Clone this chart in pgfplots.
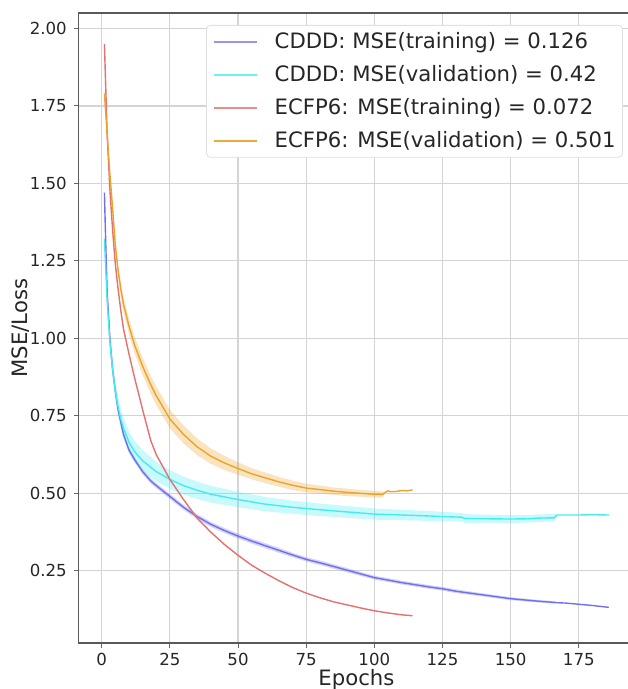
\documentclass[border=0pt]{standalone}
\usepackage{fontspec}
\setmainfont{DejaVu Sans}
\usepackage{pgfplots}
\usepackage{pgfplotstable}
\pgfplotsset{compat=1.18}
\usepgfplotslibrary{fillbetween}

\definecolor{cblue}{RGB}{112,112,236}
\definecolor{ccyan}{RGB}{72,234,242}
\definecolor{cred}{RGB}{228,112,112}
\definecolor{corange}{RGB}{234,164,44}
\definecolor{lblue}{RGB}{150,150,240}
\definecolor{lcyan}{RGB}{110,240,245}
\definecolor{lred}{RGB}{235,140,140}
\definecolor{lorange}{RGB}{236,172,60}

\pgfplotstableread{
x y lo hi
1 1.470 1.460 1.480
1.5 1.300 1.290 1.310
2 1.150 1.140 1.160
3 1.000 0.990 1.010
4 0.900 0.891 0.909
5 0.830 0.822 0.838
6 0.770 0.762 0.778
7 0.730 0.722 0.738
8 0.690 0.682 0.698
10 0.640 0.632 0.648
12 0.610 0.602 0.618
15 0.570 0.562 0.578
18 0.540 0.532 0.548
20 0.525 0.517 0.533
25 0.490 0.482 0.498
30 0.455 0.447 0.463
35 0.425 0.417 0.433
40 0.400 0.392 0.408
45 0.380 0.372 0.388
50 0.362 0.354 0.370
55 0.346 0.338 0.354
60 0.331 0.323 0.339
65 0.316 0.308 0.324
70 0.301 0.294 0.308
75 0.287 0.280 0.294
80 0.276 0.269 0.283
90 0.252 0.245 0.259
100 0.228 0.222 0.234
110 0.212 0.206 0.218
120 0.198 0.192 0.204
125 0.192 0.186 0.198
130 0.184 0.178 0.190
140 0.172 0.167 0.177
150 0.160 0.155 0.165
160 0.152 0.148 0.156
166 0.148 0.144 0.152
167 0.147 0.147 0.147
170 0.146 0.146 0.146
175 0.142 0.142 0.142
180 0.138 0.138 0.138
186 0.132 0.132 0.132
}\cdddtrain

\pgfplotstableread{
x y lo hi
1 1.320 1.310 1.330
1.5 1.220 1.205 1.235
2 1.120 1.100 1.140
3 0.990 0.965 1.015
4 0.900 0.872 0.928
5 0.830 0.800 0.860
6 0.780 0.748 0.812
7 0.740 0.707 0.773
8 0.710 0.676 0.744
10 0.665 0.630 0.700
12 0.635 0.600 0.670
15 0.605 0.571 0.639
20 0.570 0.538 0.602
25 0.545 0.515 0.575
30 0.525 0.496 0.554
35 0.510 0.482 0.538
40 0.497 0.470 0.524
50 0.480 0.455 0.505
60 0.465 0.442 0.488
70 0.455 0.434 0.476
75 0.451 0.430 0.472
80 0.447 0.427 0.467
90 0.440 0.421 0.459
100 0.433 0.415 0.451
110 0.430 0.413 0.447
120 0.427 0.411 0.443
125 0.425 0.410 0.440
132 0.423 0.409 0.437
133 0.419 0.405 0.433
140 0.418 0.405 0.431
150 0.417 0.404 0.430
157 0.418 0.406 0.430
160 0.420 0.408 0.432
166 0.421 0.409 0.433
167 0.430 0.430 0.430
175 0.430 0.430 0.430
180 0.431 0.431 0.431
186 0.430 0.430 0.430
}\cdddval

\pgfplotstableread{
x y
1 1.950
2 1.660
3 1.480
4 1.350
5 1.240
6 1.160
7 1.090
8 1.030
9 0.990
10 0.950
12 0.875
15 0.770
18 0.670
20 0.625
25 0.545
30 0.480
35 0.420
40 0.375
45 0.335
50 0.300
55 0.268
60 0.242
65 0.218
70 0.196
75 0.178
80 0.163
85 0.150
90 0.140
95 0.130
100 0.121
105 0.114
110 0.108
114 0.105
}\ecfptrain

\pgfplotstableread{
x y lo hi
1 1.790 1.780 1.800
2 1.660 1.650 1.670
3 1.530 1.518 1.542
4 1.420 1.405 1.435
5 1.300 1.283 1.317
6 1.220 1.200 1.240
7 1.160 1.138 1.182
8 1.110 1.087 1.133
10 1.040 1.015 1.065
12 0.980 0.953 1.007
15 0.910 0.882 0.938
18 0.850 0.821 0.879
20 0.815 0.785 0.845
25 0.740 0.710 0.770
30 0.690 0.661 0.719
35 0.650 0.623 0.677
40 0.620 0.595 0.645
45 0.598 0.575 0.621
50 0.580 0.560 0.600
55 0.563 0.545 0.581
60 0.550 0.533 0.567
65 0.537 0.521 0.553
70 0.526 0.511 0.541
75 0.517 0.503 0.531
80 0.512 0.499 0.525
85 0.507 0.495 0.519
90 0.503 0.491 0.515
95 0.500 0.489 0.511
100 0.497 0.486 0.508
103 0.496 0.486 0.506
104 0.503 0.503 0.503
105 0.508 0.508 0.508
106 0.505 0.505 0.505
108 0.506 0.506 0.506
110 0.509 0.509 0.509
112 0.508 0.508 0.508
114 0.511 0.511 0.511
}\ecfpval

\begin{document}
\begin{tikzpicture}
\begin{axis}[
  at={(0,0)}, anchor=south west,
  scale only axis,
  width=277.6pt, height=315pt,
  xmin=-8.4, xmax=195.25,
  ymin=0.017, ymax=2.05,
  xtick={0,25,...,175},
  ytick={0.25,0.5,0.75,1.0,1.25,1.5,1.75,2.0},
  yticklabel style={/pgf/number format/.cd, fixed, fixed zerofill, precision=2},
  xticklabel style={yshift=1pt},
  /pgf/number format/assume math mode=true,
  tick label style={font=\fontsize{8.3}{10}\selectfont, text=black!85},
  tick align=outside,
  major tick length=2.5pt,
  tick style={black!60, line width=0.5pt},
  xtick pos=bottom, ytick pos=left,
  grid=major,
  major grid style={line width=0.55pt, draw=black!17},
  axis line style={line width=0.6pt, draw=black!65},
  xlabel={Epochs},
  ylabel={MSE/Loss},
  label style={font=\fontsize{10.6}{12}\selectfont, text=black!85},
  xlabel style={at={(axis description cs:0.5,-0.0667)}, anchor=base},
  ylabel style={at={(axis description cs:-0.0915,0.5)}, anchor=base, rotate=0},
  legend cell align=left,
  legend image code/.code={\draw[#1] (0pt,0pt) -- (21.5pt,0pt);},
  legend style={
    at={(0.980,0.981)}, anchor=north east,
    font=\fontsize{10.6}{12}\selectfont,
    text=black!85,
    draw=black!12, rounded corners=2pt,
    fill=white,
    inner xsep=3pt, inner ysep=3pt,
    row sep=5.9pt,
    nodes={inner sep=0.5pt},
    /tikz/every odd column/.append style={column sep=8pt},
  },
]
\addlegendimage{draw=lblue, line width=1pt}
\addlegendimage{draw=lcyan, line width=1.1pt}
\addlegendimage{draw=lred, line width=1pt}
\addlegendimage{draw=lorange, line width=1pt}
\legend{CDDD: MSE(training) = 0.126, CDDD: MSE(validation) = 0.42, ECFP6: MSE(training) = 0.072, ECFP6: MSE(validation) = 0.501}
% bands
\addplot[draw=none, name path=bhi, forget plot] table[x=x,y=hi]{\cdddtrain};
\addplot[draw=none, name path=blo, forget plot] table[x=x,y=lo]{\cdddtrain};
\addplot[fill=cblue, fill opacity=0.3, draw=none, forget plot] fill between[of=bhi and blo];
\addplot[draw=none, name path=chi, forget plot] table[x=x,y=hi]{\cdddval};
\addplot[draw=none, name path=clo, forget plot] table[x=x,y=lo]{\cdddval};
\addplot[fill=ccyan, fill opacity=0.3, draw=none, forget plot] fill between[of=chi and clo];
\addplot[draw=none, name path=ohi, forget plot] table[x=x,y=hi]{\ecfpval};
\addplot[draw=none, name path=olo, forget plot] table[x=x,y=lo]{\ecfpval};
\addplot[fill=corange, fill opacity=0.3, draw=none, forget plot] fill between[of=ohi and olo];
% lines
\addplot[cblue, line width=0.7pt, forget plot] table[x=x,y=y]{\cdddtrain};
\addplot[ccyan, line width=0.7pt, forget plot] table[x=x,y=y]{\cdddval};
\addplot[cred, line width=0.7pt, forget plot] table[x=x,y=y]{\ecfptrain};
\addplot[corange, line width=0.7pt, forget plot] table[x=x,y=y]{\ecfpval};
\end{axis}
\pgfresetboundingbox
\path[use as bounding box] (-39.4pt,-23pt) rectangle (274.1pt,321.5pt);
\end{tikzpicture}
\end{document}
